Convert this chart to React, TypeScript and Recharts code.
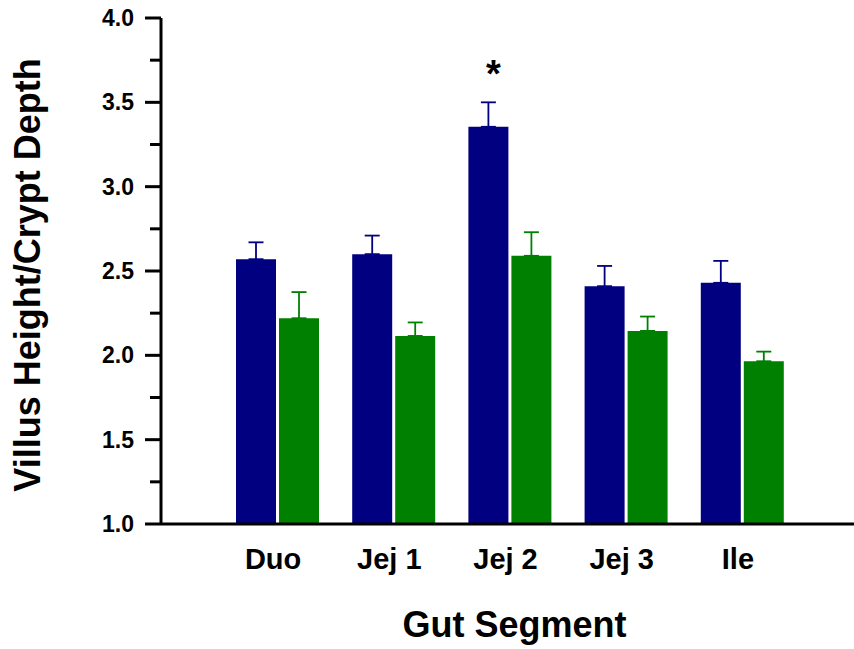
import React from 'react';
import { BarChart, Bar, XAxis, YAxis, ErrorBar, LabelList, Label } from 'recharts';

// values
const segments = ['Duo', 'Jej 1', 'Jej 2', 'Jej 3', 'Ile'];
const blueMeans = [2.57, 2.6, 3.355, 2.41, 2.43];
const blueErrors = [0.1, 0.11, 0.145, 0.12, 0.13];
const greenMeans = [2.22, 2.115, 2.59, 2.145, 1.965];
const greenErrors = [0.155, 0.08, 0.14, 0.085, 0.057];
const significance = ['', '', '*', '', ''];
const yTicks = [1, 1.25, 1.5, 1.75, 2, 2.25, 2.5, 2.75, 3, 3.25, 3.5, 3.75, 4];

const data = segments.map((name, i) => ({
  name,
  blue: blueMeans[i],
  blueErr: [0, blueErrors[i]],
  green: greenMeans[i],
  greenErr: [0, greenErrors[i]],
  sig: significance[i],
}));

const FONT = '"Liberation Sans", Arial, sans-serif';

const YTick = (props: any) => {
  const { x, y, payload } = props;
  const major = Math.abs(payload.value * 2 - Math.round(payload.value * 2)) < 1e-6;
  return (
    <g>
      <line x1={x - (major ? 16 : 11)} y1={y} x2={x} y2={y} stroke="#000" strokeWidth={3} />
      {major && (
        <text x={x - 27} y={y} dy="0.355em" textAnchor="end" fontSize={23} fontWeight="bold" fontFamily={FONT} fill="#000">
          {payload.value.toFixed(1)}
        </text>
      )}
    </g>
  );
};

const XTick = (props: any) => {
  const { x, y, payload } = props;
  return (
    <text x={x - 4} y={y} dy="0.71em" textAnchor="middle" fontSize={29} fontWeight="bold" fontFamily={FONT} fill="#000">
      {payload.value}
    </text>
  );
};

const Star = (props: any) => {
  const { x, y, width, value } = props;
  if (!value) return null;
  return (
    <text x={x + width / 2 + 5} y={y - 40} textAnchor="middle" fontSize={38} fontWeight="bold" fontFamily={FONT} fill="#000">
      {value}
    </text>
  );
};

const YTitle = (props: any) => {
  const vb = props.viewBox;
  const cx = vb.x + 40;
  const cy = vb.y + vb.height / 2 + 4;
  return (
    <text x={cx} y={cy} transform={`rotate(-90, ${cx}, ${cy})`} textAnchor="middle" fontSize={36} fontWeight="bold" fontFamily={FONT} fill="#000">
      Villus Height/Crypt Depth
    </text>
  );
};

export default function App() {
  return (
    <div style={{ position: 'absolute', left: 0, top: 0, background: '#fff', fontFamily: FONT }}>
      <BarChart
        width={854}
        height={649}
        data={data}
        margin={{ top: 18, right: 0, left: 0, bottom: 0 }}
        barSize={40}
        barGap={3}
      >
        <XAxis
          dataKey="name"
          height={125}
          padding={{ left: 58, right: 54 }}
          tickLine={false}
          tickSize={0}
          tickMargin={24}
          tick={<XTick />}
          axisLine={{ stroke: '#000', strokeWidth: 3 }}
          interval={0}
        >
          <Label
            value="Gut Segment"
            position="insideBottom"
            offset={12}
            dx={7}
            fontSize={36}
            fontWeight="bold"
            fontFamily={FONT}
            fill="#000"
          />
        </XAxis>
        <YAxis
          width={161}
          domain={[1, 4]}
          ticks={yTicks}
          interval={0}
          tickLine={false}
          tickSize={0}
          tickMargin={0}
          tick={<YTick />}
          axisLine={{ stroke: '#000', strokeWidth: 3 }}
          label={<YTitle />}
        />
        <Bar dataKey="blue" fill="#000080" isAnimationActive={false}>
          <ErrorBar dataKey="blueErr" width={7.5} stroke="#000080" strokeWidth={1.8} direction="y" />
          <LabelList dataKey="sig" content={<Star />} />
        </Bar>
        <Bar dataKey="green" fill="#008000" isAnimationActive={false}>
          <ErrorBar dataKey="greenErr" width={7.5} stroke="#008000" strokeWidth={1.8} direction="y" />
        </Bar>
      </BarChart>
    </div>
  );
}
